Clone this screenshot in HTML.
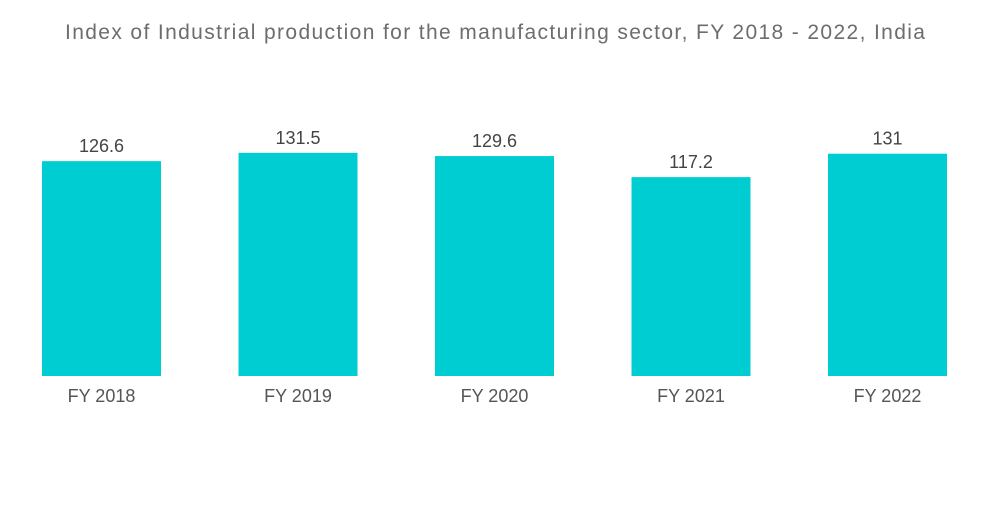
<!DOCTYPE html>
<html><head><meta charset="utf-8"><style>
body{margin:0;background:#fff;width:1000px;height:504px;overflow:hidden;font-family:"Liberation Sans",sans-serif}
</style></head><body>
<svg id="chart" width="1000" height="504" xmlns="http://www.w3.org/2000/svg">
<text x="65" y="39" font-size="21" fill="#6d6d6d" textLength="860" lengthAdjust="spacing" font-family="Liberation Sans, sans-serif">Index of Industrial production for the manufacturing sector,  FY 2018 - 2022, India</text>
<g id="bars"></g>
</svg>
<script>
const categories = ["FY 2018","FY 2019","FY 2020","FY 2021","FY 2022"];
const values = [126.6,131.5,129.6,117.2,131];
const valueLabels = ["126.6","131.5","129.6","117.2","131"];
const baseY = 376, pxPerUnit = 1.697, x0 = 42, step = 196.5, bw = 119;
const yScale = v => baseY - v * pxPerUnit;
const xScale = i => x0 + i * step;
const g = document.getElementById('bars');
const ns = "http://www.w3.org/2000/svg";
categories.forEach((c, i) => {
  const x = xScale(i), y = yScale(values[i]);
  const r = document.createElementNS(ns, 'rect');
  
  
  r.setAttribute('x', x); r.setAttribute('y', y);
  r.setAttribute('width', bw); r.setAttribute('height', baseY - y);
  r.setAttribute('fill', '#00cdd2');
  g.appendChild(r);
  const t = document.createElementNS(ns, 'text');
  
  
  t.setAttribute('x', x + bw / 2); t.setAttribute('y', y - 9);
  t.setAttribute('text-anchor', 'middle'); t.setAttribute('font-size', '18');
  t.setAttribute('fill', '#444');
  t.textContent = valueLabels[i];
  g.appendChild(t);
  const l = document.createElementNS(ns, 'text');
  
  
  l.setAttribute('x', x + bw / 2); l.setAttribute('y', 402);
  l.setAttribute('text-anchor', 'middle'); l.setAttribute('font-size', '18');
  l.setAttribute('fill', '#555');
  l.textContent = c;
  g.appendChild(l);
});
</script>
</body></html>
